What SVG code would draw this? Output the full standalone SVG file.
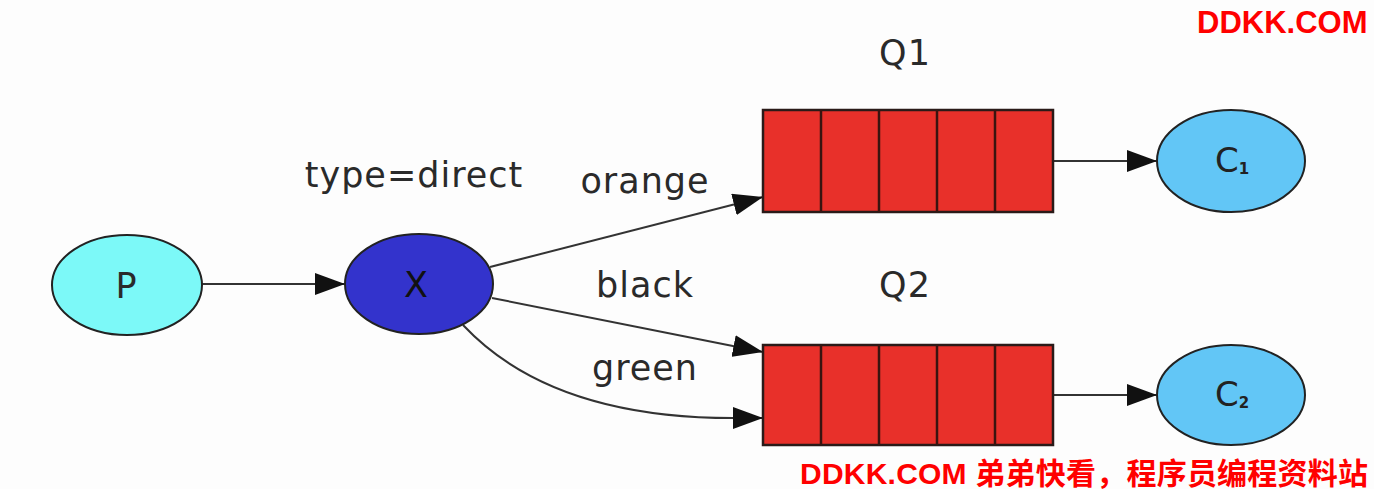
<svg xmlns="http://www.w3.org/2000/svg" width="1374" height="489" viewBox="0 0 1374 489">
<defs>
<marker id="arr" markerWidth="30" markerHeight="22" refX="30" refY="11" orient="auto" markerUnits="userSpaceOnUse">
<path d="M0,0 L30,11 L0,22 Z" fill="#111"/>
</marker>
<style>
.lbl{font-family:"DejaVu Sans",sans-serif;font-size:35px;fill:#2a2a2a;text-anchor:middle;letter-spacing:1px}
.nd{stroke:#222;stroke-width:2}
.edge{fill:none;stroke:#333;stroke-width:2}
.q{fill:#e8302a;stroke:#2a1a18;stroke-width:2.5}
.wm{font-family:"Liberation Sans","Noto Sans CJK SC",sans-serif;font-weight:bold;font-size:31px;fill:#ff0000}
</style>
</defs>
<rect width="1374" height="489" fill="#fdfdfd"/>

<g id="connectors">
<path class="edge" d="M202,284 L345,284" stroke-width="3" stroke="#555" marker-end="url(#arr)"/>
<path class="edge" d="M490,267 L763,197" marker-end="url(#arr)"/>
<path class="edge" d="M492,298 L763,352" marker-end="url(#arr)"/>
<path class="edge" d="M463,325 C510,375 590,418 733,418 L763,418" marker-end="url(#arr)"/>
<path class="edge" d="M1053,161 L1157,161" marker-end="url(#arr)"/>
<path class="edge" d="M1053,395 L1157,395" marker-end="url(#arr)"/>
</g>

<g id="labels">
<text class="lbl" x="414" y="187">type=direct</text>
<text class="lbl" x="645" y="193">orange</text>
<text class="lbl" x="645" y="297">black</text>
<text class="lbl" x="645" y="380">green</text>
</g>

<g id="P">
<ellipse class="nd" cx="127" cy="285" rx="75" ry="50" fill="#7cf9f8"/>
<text class="lbl" x="126" y="298" style="letter-spacing:0">P</text>
</g>

<g id="X">
<ellipse class="nd" cx="419" cy="284" rx="74" ry="50" fill="#3333cc"/>
<text class="lbl" x="416" y="297" style="fill:#111;letter-spacing:0">X</text>
</g>

<g id="Q1">
<text class="lbl" x="905" y="65">Q1</text>
<rect class="q" x="763" y="110" width="290" height="102"/>
<path d="M821,110 V212 M879,110 V212 M937,110 V212 M995,110 V212" stroke="#3a1410" stroke-width="2.5"/>
</g>

<g id="Q2">
<text class="lbl" x="905" y="297">Q2</text>
<rect class="q" x="763" y="345" width="290" height="100"/>
<path d="M821,345 V445 M879,345 V445 M937,345 V445 M995,345 V445" stroke="#3a1410" stroke-width="2.5"/>
</g>

<g id="C1">
<ellipse class="nd" cx="1231" cy="161" rx="74" ry="51" fill="#62c6f6"/>
<text x="1232" y="172" style="font-family:'DejaVu Sans',sans-serif;font-size:34px;fill:#222;text-anchor:middle">C<tspan font-size="15" font-weight="bold" dy="2">1</tspan></text>
</g>

<g id="C2">
<ellipse class="nd" cx="1231" cy="395" rx="74" ry="50" fill="#62c6f6"/>
<text x="1232" y="406" style="font-family:'DejaVu Sans',sans-serif;font-size:34px;fill:#222;text-anchor:middle">C<tspan font-size="15" font-weight="bold" dy="2">2</tspan></text>
</g>

<g id="watermarks">
<text class="wm" x="1197" y="33">DDKK.COM</text>
<text class="wm" x="800" y="484" style="font-size:30px" textLength="568">DDKK.COM 弟弟快看，程序员编程资料站</text>
</g>
</svg>
